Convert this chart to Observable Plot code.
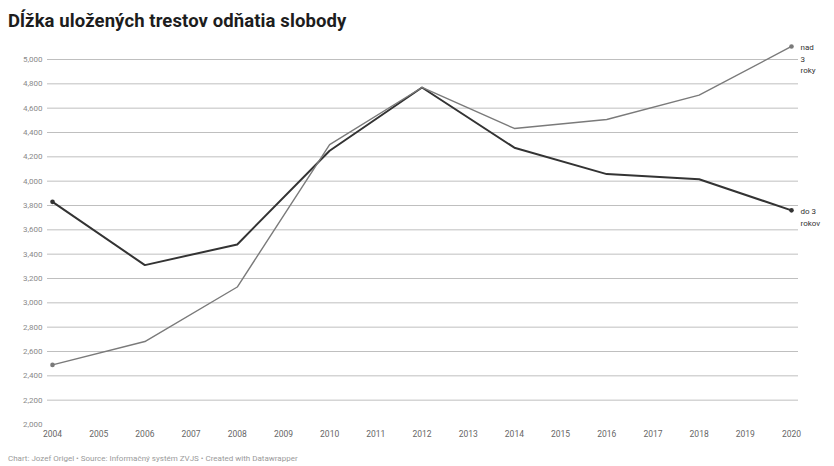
<!DOCTYPE html>
<html>
<head>
<meta charset="utf-8">
<script src="https://cdn.jsdelivr.net/npm/d3@7"></script>
<script src="https://cdn.jsdelivr.net/npm/@observablehq/plot@0.6"></script>
<style>
  body { margin: 0; background: #fff; font-family: Roboto, "Noto Sans", sans-serif; }
  #wrap { width: 834px; }
  #title { font-size: 18.5px; font-weight: 700; color: #1d1d1d; padding: 10px 0 0 8px; height: 36px; box-sizing: border-box; letter-spacing: 0.1px; }
  #caption { font-size: 8px; color: #9a9a9a; padding: 8px 0 0 8px; }
  svg { display: block; }
</style>
</head>
<body>
<div id="wrap">
  <div id="title">Dĺžka uložených trestov odňatia slobody</div>
  <div id="chart"></div>
  <div id="caption">Chart: Jozef Origel • Source: Informačný systém ZVJS • Created with Datawrapper</div>
</div>
<script>
const years = [2004, 2006, 2008, 2010, 2012, 2014, 2016, 2018, 2020];
const do3rokov = [3830, 3310, 3480, 4250, 4770, 4275, 4058, 4016, 3760];
const nad3roky = [2490, 2682, 3130, 4300, 4770, 4433, 4507, 4707, 5107];
const seriesNames = ["do 3 rokov", "nad 3 roky"];
const seriesLabels = ["do 3\nrokov", "nad\n3\nroky"];
const xTicks = d3.range(2004, 2021);
const yTicks = d3.range(2000, 5001, 200);
const gridTicks = yTicks.filter(v => v > 2000);

const data = [];
years.forEach((y, i) => {
  data.push({year: y, value: do3rokov[i], series: seriesNames[0]});
  data.push({year: y, value: nad3roky[i], series: seriesNames[1]});
});
const ends = data.filter(d => d.year === years[0] || d.year === years[years.length - 1]);
const lastPts = data.filter(d => d.year === years[years.length - 1]).map(d => ({...d, label: seriesLabels[seriesNames.indexOf(d.series)]}));

const colors = {"do 3 rokov": "#333333", "nad 3 roky": "#7a7a7a"};
const widths = {"do 3 rokov": 2, "nad 3 roky": 1.4};

const chart = Plot.plot({
  width: 834,
  height: 410,
  marginLeft: 52,
  marginRight: 43,
  marginTop: 23,
  marginBottom: 22,
  style: {fontFamily: "Roboto, sans-serif", background: "#fff"},
  x: {domain: [2004, 2020], ticks: xTicks, tickFormat: d => String(d), tickSize: 0, tickPadding: 6, label: null},
  y: {domain: [2000, 5000], ticks: yTicks, tickFormat: d3.format(",d"), tickSize: 0, tickPadding: 10, label: null},
  marks: [
    Plot.ruleY(gridTicks, {stroke: "#bfbfbf", strokeWidth: 1, insetLeft: -5, insetRight: -7}),
    Plot.axisY({ticks: yTicks, tickFormat: d3.format(",d"), tickSize: 0, tickPadding: 10, fill: "#8a8a8a", fontSize: 8, label: null}),
    Plot.axisX({ticks: xTicks, tickFormat: d => String(d), tickSize: 0, tickPadding: 6, fill: "#666", fontSize: 8.5, label: null}),
    ...seriesNames.map(s => Plot.line(data.filter(d => d.series === s), {x: "year", y: "value", stroke: colors[s], strokeWidth: widths[s]})),
    Plot.dot(ends, {x: "year", y: "value", r: 2.3, fill: d => colors[d.series], stroke: "none"}),
    Plot.text(lastPts, {x: "year", y: "value", text: "label", textAnchor: "start", lineAnchor: "top", dx: 9, dy: -4, fontSize: 8, lineHeight: 1.4, fill: "#333"})
  ]
});
document.getElementById("chart").appendChild(chart);
</script>
</body>
</html>
